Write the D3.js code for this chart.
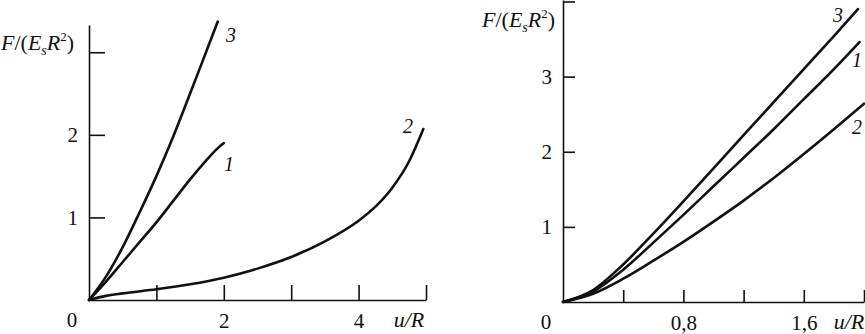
<!DOCTYPE html>
<html><head><meta charset="utf-8">
<script src="https://cdn.jsdelivr.net/npm/d3@7"></script>
<style>
body{margin:0;background:#fff;}
svg text{font-family:"Liberation Serif","DejaVu Serif",serif !important;fill:#111;}
.axis path,.axis line{stroke:#111;stroke-width:1.6;}
.axis text{font-size:21px;}
</style></head>
<body>
<svg id="c" width="865" height="334"></svg>
<script>
// ---- Left panel data (u/R, F/(EsR^2)) ----
const leftXTicks = [1, 2, 3, 4, 5];
const leftXLabels = {2: "2", 4: "4"};
const leftYTicks = [1, 2, 3];
const leftYLabels = {1: "1", 2: "2"};
const leftCurve1 = [[0,0],[0.25,0.22],[0.5,0.46],[0.75,0.7],[1.0,0.94],[1.25,1.2],[1.5,1.46],[1.75,1.7],[1.9,1.83],[2.0,1.9]];
const leftCurve2 = [[0,0],[0.25,0.05],[0.5,0.08],[1,0.13],[1.5,0.19],[2,0.27],[2.5,0.38],[3,0.52],[3.5,0.71],[4,0.96],[4.25,1.13],[4.5,1.36],[4.75,1.68],[4.96,2.07]];
const leftCurve3 = [[0,0],[0.25,0.28],[0.5,0.64],[0.75,1.06],[1.0,1.5],[1.25,1.98],[1.5,2.5],[1.75,3.03],[1.91,3.37]];

// ---- Right panel data ----
const rightXTicks = [0.4, 0.8, 1.2, 1.6, 2.0];
const rightXLabels = {0.8: "0,8", 1.6: "1,6"};
const rightYTicks = [1, 2, 3, 4];
const rightYLabels = {1: "1", 2: "2", 3: "3"};
const rightCurve1 = [[0,0],[0.2,0.14],[0.4,0.43],[0.6,0.79],[0.8,1.16],[1.0,1.54],[1.2,1.92],[1.4,2.3],[1.6,2.7],[1.8,3.1],[1.97,3.46]];
const rightCurve2 = [[0,0],[0.2,0.11],[0.4,0.31],[0.6,0.55],[0.8,0.8],[1.0,1.07],[1.2,1.35],[1.4,1.65],[1.6,1.97],[1.8,2.3],[2.0,2.64]];
const rightCurve3 = [[0,0],[0.2,0.16],[0.4,0.5],[0.6,0.91],[0.8,1.34],[1.0,1.78],[1.2,2.22],[1.4,2.66],[1.6,3.1],[1.8,3.54],[1.96,3.9]];

const svg = d3.select("#c");

function panel(o){
  const x = d3.scaleLinear().domain(o.xDom).range(o.xRange);
  const y = d3.scaleLinear().domain(o.yDom).range(o.yRange);
  const g = svg.append("g");
  const xa = d3.axisBottom(x).tickValues(o.xTicks).tickSizeInner(-o.xTickLen).tickSizeOuter(0)
    .tickPadding(13).tickFormat(d => o.xLabels[d] || "");
  g.append("g").attr("class","axis").attr("transform",`translate(0,${y(0)})`).call(xa);
  const ya = d3.axisLeft(y).tickValues(o.yTicks).tickSizeInner(-o.yTickLen).tickSizeOuter(0)
    .tickPadding(11).tickFormat(d => o.yLabels[d] || "");
  g.append("g").attr("class","axis").attr("transform",`translate(${x(0)},0)`).call(ya);
  // origin label
  g.append("text").attr("x", x(0) - 17).attr("y", y(0) + 27).attr("text-anchor","middle")
    .attr("font-size",21).text("0");
  const line = d3.line().x(d => x(d[0])).y(d => y(d[1])).curve(d3.curveMonotoneX);
  o.curves.forEach(c => {
    g.append("path").datum(c.data).attr("d", line).attr("fill","none")
      .attr("stroke","#111").attr("stroke-width",2.6).attr("stroke-linecap","round");
    g.append("text").attr("x", c.lx).attr("y", c.ly).attr("font-size",20)
      .attr("font-style","italic").attr("text-anchor","middle").text(c.name);
  });
  // axis titles
  const t = g.append("text").attr("x", o.titleX).attr("y", o.titleY).attr("font-size",22);
  t.append("tspan").attr("font-style","italic").text("F");
  t.append("tspan").text("/(");
  t.append("tspan").attr("font-style","italic").text("E");
  t.append("tspan").attr("font-style","italic").attr("font-size",14).attr("dy",5).text("s");
  t.append("tspan").attr("font-style","italic").attr("dy",-5).text("R");
  t.append("tspan").attr("font-size",13).attr("dy",-9).text("2");
  t.append("tspan").attr("dy",9).text(")");
  g.append("text").attr("x", o.uX).attr("y", y(0) + 27).attr("font-size",22)
    .attr("font-style","italic").attr("text-anchor","middle").text("u/R");
}

panel({
  xDom:[0,5], xRange:[89,426], yDom:[0,3.33], yRange:[300,25],
  xTicks:leftXTicks, xLabels:leftXLabels, yTicks:leftYTicks, yLabels:leftYLabels,
  xTickLen:15, yTickLen:16,
  curves:[
    {name:"3", data:leftCurve3, lx:231, ly:42},
    {name:"1", data:leftCurve1, lx:229, ly:171},
    {name:"2", data:leftCurve2, lx:408, ly:133}
  ],
  titleX:1, titleY:50, uX:409
});

panel({
  xDom:[0,2], xRange:[563,864], yDom:[0,4.02], yRange:[302,0],
  xTicks:rightXTicks, xLabels:rightXLabels, yTicks:rightYTicks, yLabels:rightYLabels,
  xTickLen:12, yTickLen:12,
  curves:[
    {name:"3", data:rightCurve3, lx:838, ly:22},
    {name:"1", data:rightCurve1, lx:857, ly:67},
    {name:"2", data:rightCurve2, lx:857, ly:134}
  ],
  titleX:482, titleY:27, uX:849
});
</script>
</body></html>
